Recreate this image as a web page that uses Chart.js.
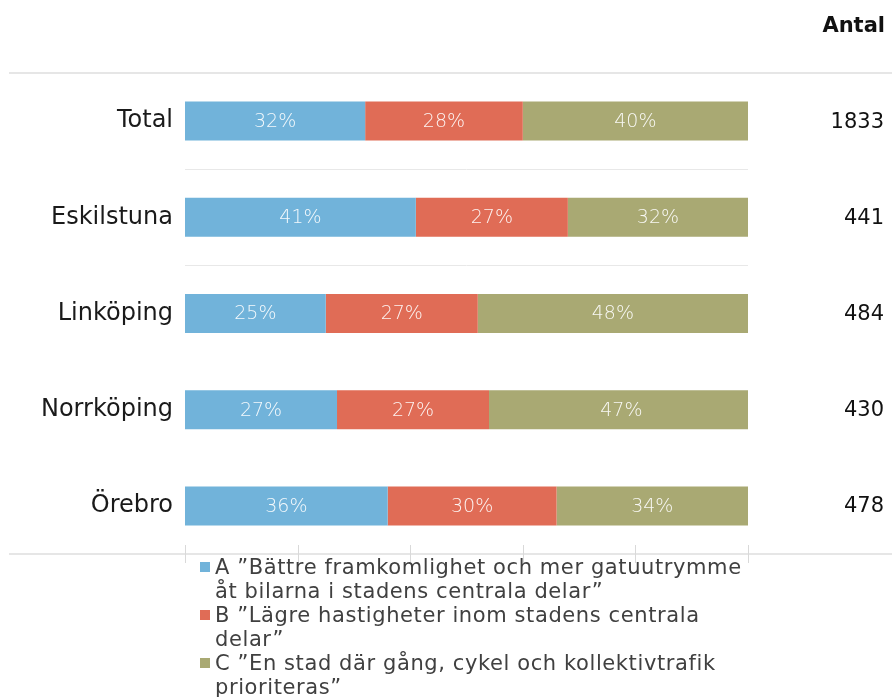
<!DOCTYPE html>
<html lang="sv">
<head>
<meta charset="utf-8">
<title>Prioritering i stadens centrala delar</title>
<script src="https://cdn.jsdelivr.net/npm/chart.js@4.4.1/dist/chart.umd.min.js"></script>
<style>
  html, body { margin: 0; padding: 0; background: #fff; }
  .wrap { position: relative; width: 892px; height: 697px; }
  #legend {
    position: absolute; left: 199px; top: 555px; width: 640px;
    font-family: 'DejaVu Sans', sans-serif; font-size: 21px; line-height: 24px; color: #404040;
    letter-spacing: 0.6px;
  }
  #legend .item { position: relative; padding-left: 16px; white-space: pre-line; }
  #legend .box { position: absolute; left: 1px; top: 7px; width: 10px; height: 10px; }
</style>
</head>
<body>
<div class="wrap">
  <canvas id="chart" width="892" height="697"></canvas>
  <div id="legend"></div>
</div>
<script>
// Data
const kategorier = ['Total', 'Eskilstuna', 'Linköping', 'Norrköping', 'Örebro'];
const andelA = [32, 41, 25, 27, 36];
const andelB = [28, 27, 27, 27, 30];
const andelC = [40, 32, 48, 47, 34];
const antal = [1833, 441, 484, 430, 478];
// radbrytningarna följer teckenförklaringen
const serieNamn = [
    'A ”Bättre framkomlighet och mer gatuutrymme\nåt bilarna i stadens centrala delar”',
    'B ”Lägre hastigheter inom stadens centrala\ndelar”',
    'C ”En stad där gång, cykel och kollektivtrafik\nprioriteras”'
];
const serieFarger = ['#71b3da', '#e06c56', '#a9a973'];
const xTicks = [0, 20, 40, 60, 80, 100];

const FONT = "'DejaVu Sans', sans-serif";

// Ramlinjer, tickmarkeringar, procentetiketter och antal-kolumnen
const ramPlugin = {
    id: 'ram',
    afterDraw(chart) {
        const ctx = chart.ctx;
        const x = chart.scales.x;
        const y = chart.scales.y;
        ctx.save();

        ctx.strokeStyle = '#e6e6e6';
        ctx.lineWidth = 2;
        [y.top, y.bottom].forEach(function(py) {
            ctx.beginPath();
            ctx.moveTo(9, py);
            ctx.lineTo(chart.width, py);
            ctx.stroke();
        });

        ctx.strokeStyle = '#d9d9d9';
        ctx.lineWidth = 1;
        xTicks.forEach(function(v) {
            const px = Math.round(x.getPixelForValue(v)) + 0.5;
            ctx.beginPath();
            ctx.moveTo(px, y.bottom - 9);
            ctx.lineTo(px, y.bottom + 9);
            ctx.stroke();
        });

        ctx.font = '200 19px ' + FONT;
        ctx.fillStyle = 'rgba(255,255,255,0.92)';
        ctx.textAlign = 'center';
        ctx.textBaseline = 'middle';
        chart.data.datasets.forEach(function(ds, di) {
            chart.getDatasetMeta(di).data.forEach(function(bar, i) {
                const c = bar.getCenterPoint();
                ctx.fillText(ds.data[i] + '%', c.x, c.y + 1);
            });
        });

        ctx.fillStyle = '#111';
        ctx.textAlign = 'right';
        ctx.font = '21px ' + FONT;
        antal.forEach(function(n, i) {
            ctx.fillText(String(n), 884, y.getPixelForValue(i) + 1);
        });
        ctx.font = 'bold 21px ' + FONT;
        ctx.fillText('Antal', 885, 27);

        ctx.restore();
    }
};

const chart = new Chart(document.getElementById('chart'), {
    type: 'bar',
    data: {
        labels: kategorier,
        datasets: [andelA, andelB, andelC].map(function(d, i) {
            return {
                label: serieNamn[i],
                data: d,
                backgroundColor: serieFarger[i],
                categoryPercentage: 1,
                barPercentage: 0.405
            };
        })
    },
    options: {
        indexAxis: 'y',
        responsive: false,
        animation: false,
        layout: { padding: { left: 0, right: 144, top: 73, bottom: 143 } },
        plugins: {
            legend: { display: false },
            tooltip: { enabled: false }
        },
        scales: {
            x: {
                display: false,
                stacked: true,
                min: 0,
                max: 100
            },
            y: {
                stacked: true,
                border: { display: false },
                grid: {
                    offset: true,
                    drawTicks: false,
                    color: function(c) {
                        return (c.index === 1 || c.index === 2) ? '#e8e8e8' : 'rgba(0,0,0,0)';
                    }
                },
                ticks: {
                    padding: 12,
                    color: '#1a1a1a',
                    font: { family: FONT, size: 24 }
                },
                afterFit: function(scale) { scale.width = 185; }
            }
        }
    },
    plugins: [ramPlugin]
});

// Teckenförklaring som HTML
const legend = document.getElementById('legend');
chart.data.datasets.forEach(function(ds) {
    const item = document.createElement('div');
    item.className = 'item';
    const box = document.createElement('span');
    box.className = 'box';
    box.style.background = ds.backgroundColor;
    item.appendChild(box);
    item.appendChild(document.createTextNode(ds.label));
    legend.appendChild(item);
});
</script>
</body>
</html>
